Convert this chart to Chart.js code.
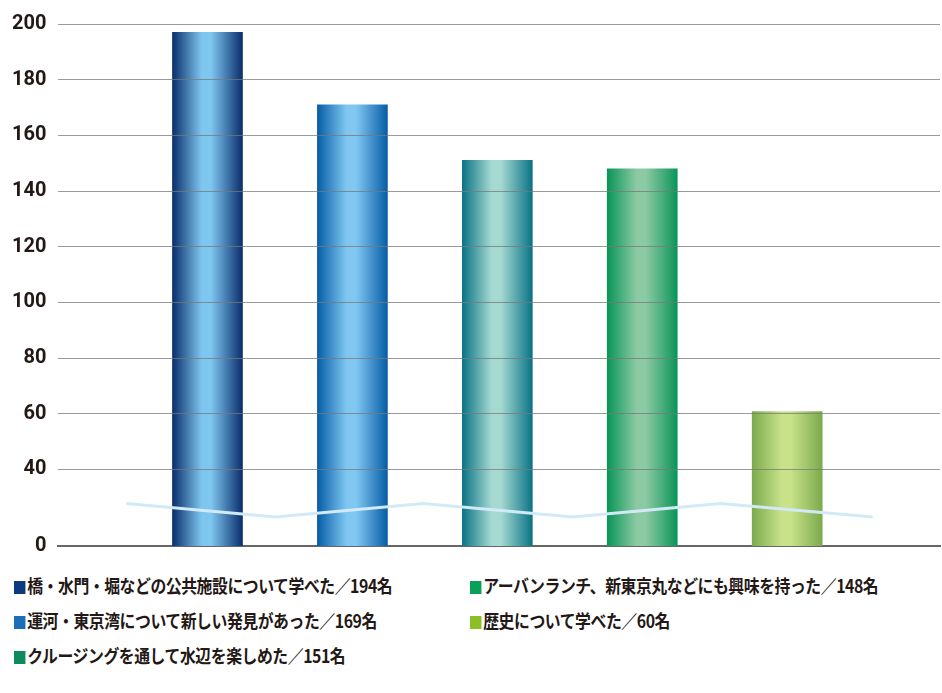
<!DOCTYPE html>
<html>
<head>
<meta charset="utf-8">
<script src="https://cdn.jsdelivr.net/npm/chart.js@4/dist/chart.umd.min.js"></script>
<style>
  body { margin: 0; background: #fff; width: 942px; height: 693px; overflow: hidden; }
  #wrap { position: relative; width: 942px; height: 570px; }
  #legend { position: absolute; left: 0; top: 572px; width: 942px; font-family: "Noto Sans CJK JP", sans-serif; font-weight: bold; font-size: 18px; color: #231815; }
  .item { position: absolute; white-space: nowrap; transform: scaleX(0.88); transform-origin: left center; letter-spacing: -0.5px; }
  .sw { display: inline-block; width: 13px; height: 13px; margin-right: 2px; vertical-align: -1px; }
</style>
</head>
<body>
<div id="wrap"><canvas id="c" width="942" height="570"></canvas></div>
<div id="legend"></div>
<script>
// bar values (axis is broken below 40)
const categories = ['橋・水門・堀などの公共施設について学べた／194名', '運河・東京湾について新しい発見があった／169名',
  'クルージングを通して水辺を楽しめた／151名', 'アーバンランチ、新東京丸などにも興味を持った／148名', '歴史について学べた／60名'];
const values = [197, 171, 151, 148, 60.8];
const edgeColors = ['#0a2f6c', '#075da6', '#0b7486', '#0a9558', '#7cab4c'];
const midColors = ['#7ec6f0', '#80c8f2', '#a5d9d1', '#8ccaa4', '#c8e28a'];
const legendColors = ['#0d3a7e', '#1a6fb8', '#0d8a5e', '#0aa05a', '#8cbf26'];
const yTicks = [12.5, 40, 60, 80, 100, 120, 140, 160, 180, 200];
const yTickLabels = ['0', '40', '60', '80', '100', '120', '140', '160', '180', '200'];
// break marker zigzag
const breakX = [-0.56, 0.47, 1.49, 2.52, 3.54, 4.59];
const breakY = [27.8, 22.9, 27.8, 22.9, 27.8, 22.9];

// put a cylinder-like gradient on each bar once it has its position
const barShading = {
  id: 'barShading',
  beforeDatasetsDraw(chart) {
    const meta = chart.getDatasetMeta(1);
    meta.data.forEach((bar, i) => {
      const half = bar.width / 2;
      if (!isFinite(bar.x) || !isFinite(half)) return;
      const g = chart.ctx.createLinearGradient(bar.x - half, 0, bar.x + half, 0);
      g.addColorStop(0, edgeColors[i]);
      g.addColorStop(0.42, midColors[i]);
      g.addColorStop(0.55, midColors[i]);
      g.addColorStop(1, edgeColors[i]);
      bar.options.backgroundColor = g;
    });
  }
};

new Chart(document.getElementById('c'), {
  type: 'bar',
  data: {
    datasets: [{
      type: 'line',
      data: breakX.map((x, k) => ({ x: x, y: breakY[k] })),
      borderColor: '#d2eaf8',
      borderWidth: 3,
      pointRadius: 0,
      tension: 0,
      order: 0
    }, {
      data: values.map((v, k) => ({ x: k, y: v })),
      backgroundColor: edgeColors,
      barThickness: 70,
      order: 1
    }]
  },
  plugins: [barShading],
  options: {
    responsive: false,
    animation: false,
    layout: { padding: { left: 0, right: 2, top: 2, bottom: 0 } },
    plugins: { legend: { display: false }, tooltip: { enabled: false } },
    scales: {
      x: {
        type: 'linear', min: -0.594, max: 4.62,
        ticks: { display: false },
        grid: { display: false },
        border: { color: '#666', width: 2 }
      },
      y: {
        min: 12.5, max: 200,
        afterBuildTicks: axis => { axis.ticks = yTicks.map(v => ({ value: v })); },
        ticks: {
          callback: (v) => yTickLabels[yTicks.indexOf(v)],
          font: { family: 'Roboto', weight: 'bold', size: 20 },
          color: '#231815',
          padding: 12
        },
        grid: { color: c => c.tick && c.tick.value === 12.5 ? 'rgba(0,0,0,0)' : 'rgba(120,120,120,0.75)', lineWidth: 1, drawTicks: false, z: 1 },
        border: { display: false }
      }
    }
  }
});

const pos = [[14, 0], [14, 35], [14, 70], [470, 0], [470, 35]];
const lg = document.getElementById('legend');
categories.forEach((name, i) => {
  const d = document.createElement('div');
  d.className = 'item';
  d.style.left = pos[i][0] + 'px';
  d.style.top = pos[i][1] + 'px';
  d.innerHTML = '<span class="sw" style="background:' + legendColors[i] + '"></span>' + name;
  lg.appendChild(d);
});
</script>
</body>
</html>
